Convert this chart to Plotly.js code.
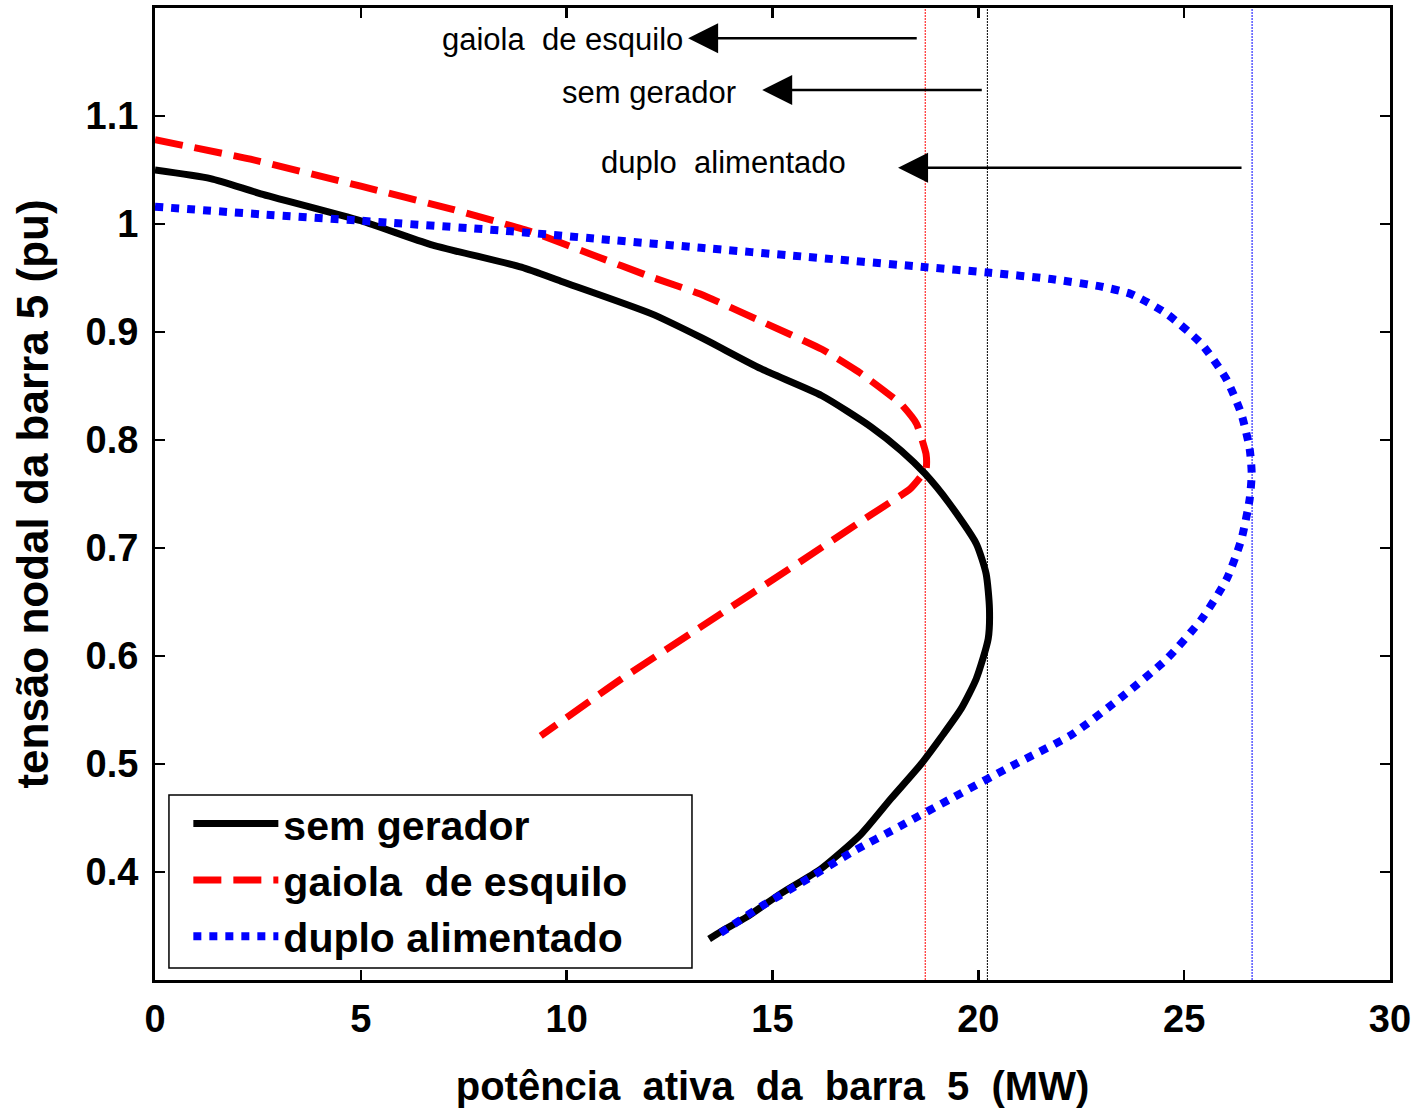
<!DOCTYPE html>
<html>
<head>
<meta charset="utf-8">
<script src="https://cdn.plot.ly/plotly-3.0.1.min.js"></script>
<style>html,body{margin:0;padding:0;background:#fff;}#chart{width:1415px;height:1112px;}</style>
</head>
<body>
<div id="chart"></div>
<script>
// ---- data ----
const semGeradorP = [0, 1.35, 2.57, 5.0, 6.7, 8.9, 9.86, 12.05, 13.26, 14.72, 16.2, 17.4, 18.13, 18.7, 19.3, 19.95, 20.19, 20.27, 20.24, 19.95, 19.58, 19.1, 18.61, 17.88, 17.15, 16.18, 15.2, 14.36, 13.75, 13.46];
const semGeradorV = [1.05, 1.042, 1.028, 1.003, 0.981, 0.960, 0.947, 0.917, 0.895, 0.866, 0.841, 0.812, 0.790, 0.769, 0.741, 0.704, 0.676, 0.644, 0.616, 0.579, 0.551, 0.525, 0.500, 0.468, 0.435, 0.403, 0.380, 0.358, 0.345, 0.338];

const gaiolaP = [0, 2.32, 5.0, 7.18, 9.13, 10.59, 12.05, 13.26, 14.72, 16.2, 17.17, 18.13, 18.5, 18.73, 18.73, 18.35, 17.4, 15.7, 13.26, 11.3, 9.37];
const gaiolaV = [1.078, 1.06, 1.035, 1.014, 0.993, 0.972, 0.951, 0.935, 0.910, 0.884, 0.861, 0.833, 0.815, 0.787, 0.773, 0.755, 0.731, 0.688, 0.627, 0.578, 0.526];

const duploP = [0, 2.57, 5.0, 8.4, 10.83, 13.26, 15.7, 18.73, 20.24, 21.77, 22.99, 23.72, 24.57, 25.42, 26.03, 26.39, 26.59, 26.64, 26.59, 26.39, 26.03, 25.42, 24.57, 23.48, 22.26, 20.8, 19.34, 18.13, 16.91, 15.7, 14.72, 13.6];
const duploV = [1.016, 1.009, 1.003, 0.994, 0.986, 0.978, 0.970, 0.960, 0.955, 0.949, 0.942, 0.935, 0.917, 0.889, 0.856, 0.824, 0.792, 0.769, 0.745, 0.708, 0.671, 0.634, 0.597, 0.562, 0.527, 0.498, 0.468, 0.443, 0.418, 0.390, 0.368, 0.340];

// maximum-power limits (vertical reference lines)
const limitNames = ["gaiola de esquilo", "sem gerador", "duplo alimentado"];
const limitP = [18.71, 20.22, 26.65];
const limitColors = ["#ff0000", "#000000", "#0000ff"];
const limitSpan = [0.3, 1.2];

// arrow labels: head (P,V) and tail P
const arrowText = ["gaiola  de esquilo", "sem gerador", "duplo  alimentado"];
const arrowHeadP = [12.95, 14.75, 18.05];
const arrowTailP = [18.54, 20.12, 26.43];
const arrowV = [1.172, 1.124, 1.052];
const arrowTextRightP = [12.88, 14.15, 16.84];
const arrowTextV = [1.171, 1.122, 1.057];

const xTicks = [0, 5, 10, 15, 20, 25, 30];
const yTicks = [0.4, 0.5, 0.6, 0.7, 0.8, 0.9, 1.0, 1.1];
const yTickText = ["0.4", "0.5", "0.6", "0.7", "0.8", "0.9", "1", "1.1"];

// ---- traces ----
const traces = [];
limitP.forEach((p, i) => {
  traces.push({
    x: [p, p], y: limitSpan, mode: 'lines', showlegend: false, hoverinfo: 'skip',
    line: {color: limitColors[i], width: 1, dash: '2px,1px'}
  });
});
traces.push({
  x: semGeradorP, y: semGeradorV, mode: 'lines', name: 'sem gerador',
  line: {color: '#000000', width: 7, shape: 'spline', smoothing: 0.6}
});
traces.push({
  x: gaiolaP, y: gaiolaV, mode: 'lines', name: 'gaiola  de esquilo',
  line: {color: '#ff0000', width: 7, dash: '28px,12px', shape: 'spline', smoothing: 0.4}
});
traces.push({
  x: duploP, y: duploV, mode: 'lines', name: 'duplo alimentado',
  line: {color: '#0000ff', width: 8, dash: '8px,8px', shape: 'spline', smoothing: 0.6}
});

const fontFam = 'Arial, "Liberation Sans", sans-serif';
const annotations = [];
arrowText.forEach((t, i) => {
  annotations.push({
    x: arrowHeadP[i], y: arrowV[i], ax: arrowTailP[i], ay: arrowV[i],
    xref: 'x', yref: 'y', axref: 'x', ayref: 'y', text: '',
    showarrow: true, arrowhead: 2, arrowsize: 2.4, arrowwidth: 2.5, arrowcolor: '#000'
  });
  annotations.push({
    x: arrowTextRightP[i], y: arrowTextV[i], xref: 'x', yref: 'y',
    text: t, showarrow: false, xanchor: 'right', yanchor: 'middle',
    font: {family: fontFam, size: 31, color: '#000'}
  });
});

const layout = {
  width: 1415, height: 1112,
  margin: {l: 155, r: 25, t: 8, b: 132},
  paper_bgcolor: '#fff', plot_bgcolor: '#fff',
  showlegend: true,
  xaxis: {
    range: [0, 30], tickvals: xTicks, ticks: 'inside', ticklen: 10, tickwidth: 2.5, tickcolor: '#000',
    showline: true, linewidth: 3, linecolor: '#000', mirror: 'ticks', showgrid: false, zeroline: false,
    tickfont: {family: fontFam, size: 38, weight: 'bold', color: '#000'},
    ticklabelstandoff: 3,
    title: {text: 'potência  ativa  da  barra  5  (MW)', standoff: 34,
            font: {family: fontFam, size: 40, weight: 'bold', color: '#000'}}
  },
  yaxis: {
    range: [0.3, 1.2], tickvals: yTicks, ticktext: yTickText, ticks: 'inside', ticklen: 10, tickwidth: 2.5, tickcolor: '#000',
    showline: true, linewidth: 3, linecolor: '#000', mirror: 'ticks', showgrid: false, zeroline: false,
    tickfont: {family: fontFam, size: 38, weight: 'bold', color: '#000'},
    ticklabelstandoff: 6,
    title: {text: 'tensão nodal da barra 5 (pu)', standoff: 24,
            font: {family: fontFam, size: 44, weight: 'bold', color: '#000'}}
  },
  legend: {
    x: 0.027, y: 0.195, xanchor: 'left', yanchor: 'top',
    bgcolor: 'rgba(0,0,0,0)', borderwidth: 0,
    font: {family: fontFam, size: 41, weight: 'bold', color: '#000'},
    itemwidth: 85, tracegroupgap: 0
  },
  shapes: [{
    type: 'rect', xref: 'paper', yref: 'paper',
    x0: 0.0113, x1: 0.4348, y0: 0.0123, y1: 0.1903,
    line: {color: '#000', width: 1.5}, fillcolor: '#fff', layer: 'above'
  }],
  annotations: annotations
};

Plotly.newPlot('chart', traces, layout, {staticPlot: true, displayModeBar: false});
</script>
</body>
</html>
